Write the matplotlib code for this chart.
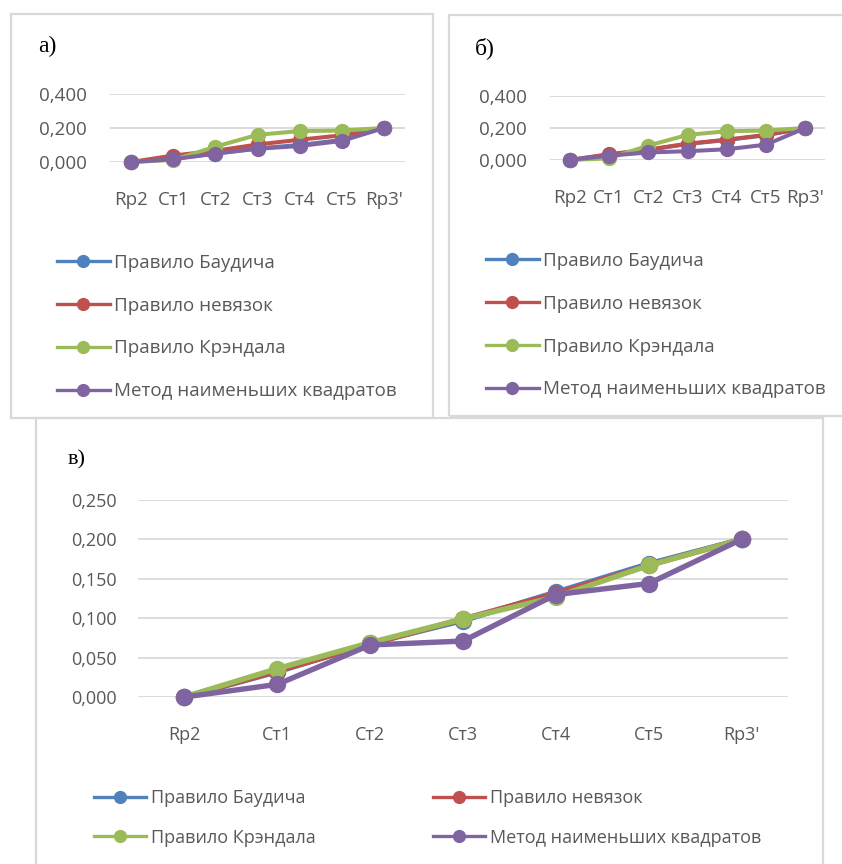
import matplotlib.pyplot as plt
from matplotlib.patches import Rectangle
from matplotlib.lines import Line2D
from matplotlib.ticker import FuncFormatter

W, H = 842, 864

stations = ['Rp2', 'Ст1', 'Ст2', 'Ст3', 'Ст4', 'Ст5', "Rp3'"]
methods = ['Правило Баудича', 'Правило невязок', 'Правило Крэндала',
           'Метод наименьших квадратов']
colors = ['#4F81BD', '#C0504D', '#9BBB59', '#8064A2']

# а) corrections per station
a_baudich = [0.000, 0.020, 0.050, 0.080, 0.100, 0.130, 0.200]
a_nevyazok = [0.000, 0.038, 0.066, 0.103, 0.131, 0.157, 0.200]
a_crandall = [0.000, 0.012, 0.090, 0.160, 0.182, 0.185, 0.200]
a_mnk = [0.000, 0.016, 0.049, 0.078, 0.094, 0.124, 0.200]

# б)
b_baudich = [0.000, 0.033, 0.063, 0.100, 0.125, 0.155, 0.200]
b_nevyazok = [0.000, 0.036, 0.065, 0.102, 0.127, 0.157, 0.200]
b_crandall = [0.000, 0.010, 0.090, 0.157, 0.180, 0.184, 0.200]
b_mnk = [0.000, 0.027, 0.047, 0.055, 0.067, 0.096, 0.200]

# в)
c_baudich = [0.000, 0.032, 0.068, 0.097, 0.133, 0.169, 0.200]
c_nevyazok = [0.000, 0.033, 0.067, 0.099, 0.131, 0.167, 0.200]
c_crandall = [0.000, 0.036, 0.069, 0.099, 0.127, 0.167, 0.200]
c_mnk = [0.000, 0.016, 0.066, 0.071, 0.130, 0.144, 0.200]

plt.rcParams['font.family'] = ['Open Sans', 'DejaVu Sans']
GRAY = '#595959'
GRID = '#D9D9D9'

fig = plt.figure(figsize=(W / 100, H / 100), dpi=100)


def px_axes(x0, y0, x1, y1):
    # pixel box (top-left origin) -> figure axes
    return fig.add_axes([x0 / W, 1 - y1 / H, (x1 - x0) / W, (y1 - y0) / H])


def frame(x0, y0, x1, y1):
    fig.patches.append(Rectangle((x0 / W, 1 - y1 / H), (x1 - x0) / W, (y1 - y0) / H,
                                 transform=fig.transFigure, fill=False,
                                 edgecolor=GRID, linewidth=1.6, zorder=0))


def panel(ax, series, ymax, ystep, lw, ms, fs):
    for vals, col, name in zip(series, colors, methods):
        ax.plot(range(len(stations)), vals, color=col, lw=lw, marker='o',
                ms=ms, label=name, solid_joinstyle='round', clip_on=False)
    ax.set_xlim(-0.5, len(stations) - 0.5)
    ax.set_ylim(0, ymax)
    ax.set_yticks([i * ystep for i in range(int(round(ymax / ystep)) + 1)])
    ax.yaxis.set_major_formatter(FuncFormatter(lambda v, p: f'{v:.3f}'.replace('.', ',')))
    ax.set_xticks(range(len(stations)))
    ax.set_xticklabels(stations)
    ax.grid(axis='y', color=GRID, lw=1.3)
    ax.set_axisbelow(True)
    for s in ax.spines.values():
        s.set_visible(False)
    ax.tick_params(length=0, colors=GRAY, labelsize=fs)


def legend_handle(col, lw, ms):
    return Line2D([0], [0], color=col, lw=lw, marker='o', ms=ms)


def add_legend(idx, left, top, fs, spacing, hl):
    fig.legend([legend_handle(colors[i], 2.4, 8.5) for i in idx],
               [methods[i] for i in idx], loc='upper left',
               bbox_to_anchor=(left / W, 1 - top / H), frameon=False,
               fontsize=fs, labelcolor=GRAY, handlelength=hl,
               handletextpad=0.25, labelspacing=spacing, borderpad=0,
               borderaxespad=0)


# panel frames
frame(11, 14, 433, 418)
frame(449, 15, 845, 416)
frame(36, 418, 823, 868)

# а)
ax_a = px_axes(110, 94, 405, 162)
panel(ax_a, [a_baudich, a_nevyazok, a_crandall, a_mnk], 0.4, 0.2, 2.9, 10, 13.5)
ax_a.tick_params(axis='y', pad=17)
ax_a.tick_params(axis='x', pad=21)
fig.text(38 / W, 1 - 46 / H, 'а)', family='Liberation Serif', fontsize=17, va='center')

# б)
ax_b = px_axes(550, 96, 825, 160)
panel(ax_b, [b_baudich, b_nevyazok, b_crandall, b_mnk], 0.4, 0.2, 2.9, 10, 13.5)
ax_b.tick_params(axis='y', pad=17)
ax_b.tick_params(axis='x', pad=21)
fig.text(475 / W, 1 - 48 / H, 'б)', family='Liberation Serif', fontsize=17, va='center')

# в)
ax_c = px_axes(138, 500, 788, 697)
panel(ax_c, [c_baudich, c_nevyazok, c_crandall, c_mnk], 0.25, 0.05, 3.9, 11.5, 13)
ax_c.tick_params(axis='y', pad=15)
ax_c.tick_params(axis='x', pad=21)
fig.text(68 / W, 1 - 460 / H, 'в)', family='Liberation Serif', fontsize=16, va='center')

# legends
add_legend([0, 1, 2, 3], 57, 254, 13.5, 1.32, 2.8)
add_legend([0, 1, 2, 3], 486, 252, 13.5, 1.32, 2.8)
add_legend([0, 2], 94, 789, 13, 1.2, 2.9)
add_legend([1, 3], 433, 789, 13, 1.2, 2.9)

fig.savefig('out.png', dpi=100)
